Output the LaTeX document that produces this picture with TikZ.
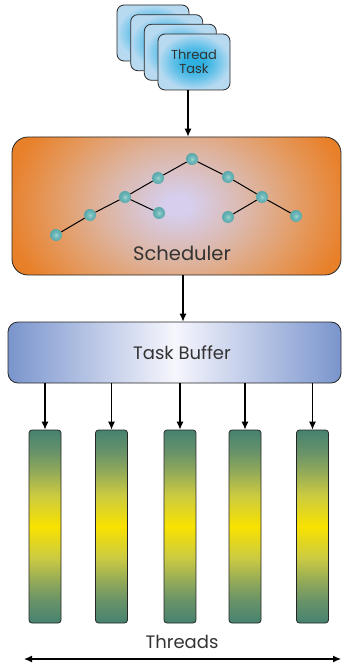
\documentclass[tikz,border=0pt]{standalone}
\usepackage{fontspec}
\setmainfont{Poppins}
\usetikzlibrary{arrows.meta}

% palette
\definecolor{cardpale}{HTML}{B8DAF1}
\definecolor{cardmid}{HTML}{6CC4EA}
\definecolor{cardcyan}{HTML}{2FB0E0}
\definecolor{schedorange}{HTML}{E8802A}
\definecolor{schedpeach}{HTML}{E49B62}
\definecolor{schedtan}{HTML}{DDB4A0}
\definecolor{schedlav}{HTML}{D6CEEC}
\definecolor{bufblue}{HTML}{7A95CD}
\definecolor{bufwhite}{HTML}{F6F6FD}
\definecolor{thrteal}{HTML}{468270}
\definecolor{thrsea}{HTML}{6A9468}
\definecolor{throlive}{HTML}{94AB58}
\definecolor{thrlime}{HTML}{CCCB40}
\definecolor{thryellow}{HTML}{F8E200}
\definecolor{ballteal}{HTML}{58A7AB}
\definecolor{ballmid}{HTML}{72BABA}
\definecolor{balllight}{HTML}{A0D6D2}
\definecolor{labelgray}{HTML}{333333}

% shadings (the filled box spans -25bp..25bp of each shading)
\pgfdeclareradialshading{cardglow}{\pgfpoint{0bp}{0bp}}{%
  color(0bp)=(cardcyan); color(7bp)=(cardcyan); color(16bp)=(cardmid); color(25bp)=(cardpale); color(50bp)=(cardpale)}
\pgfdeclareradialshading{schedglow}{\pgfpoint{0bp}{0bp}}{%
  color(0bp)=(schedlav); color(2bp)=(schedlav); color(11bp)=(schedtan); color(18bp)=(schedpeach); color(25bp)=(schedorange); color(50bp)=(schedorange)}
\pgfdeclareverticalshading{threadglow}{100bp}{%
  color(0bp)=(thrteal); color(25bp)=(thrteal); color(31bp)=(thrsea); color(36bp)=(throlive); color(42bp)=(thrlime); color(50bp)=(thryellow);
  color(58bp)=(thrlime); color(64bp)=(throlive); color(69bp)=(thrsea); color(75bp)=(thrteal); color(100bp)=(thrteal)}
\pgfdeclareradialshading{ballglow}{\pgfpoint{0bp}{0bp}}{%
  color(0bp)=(balllight); color(10bp)=(ballmid); color(25bp)=(ballteal); color(50bp)=(ballteal)}

\tikzset{
  card/.style={draw=black!85, line width=0.8pt, rounded corners=7pt,
    minimum width=72pt, minimum height=56pt, shade, shading=cardglow},
  thread/.style={draw=black!85, line width=0.8pt, rounded corners=3pt,
    minimum width=32pt, minimum height=193pt, shade, shading=threadglow},
  treenode/.style={circle, inner sep=0pt, minimum size=12pt, shade, shading=ballglow},
  treeedge/.style={line width=1pt, black},
  arr/.style={line width=1.1pt, -{Latex[length=8pt,width=7pt]}},
  txt/.style={text=labelgray, inner sep=0pt},
}

\begin{document}
\begin{tikzpicture}[x=1pt, y=-1pt]
\useasboundingbox (0,0) rectangle (342,668);

% stack of task cards, back to front
\node[card] (c1) at (153,33) {};
\node[card] (c2) at (166.7,42.7) {};
\node[card] (c3) at (180.3,52.3) {};
\node[card, align=center, text=labelgray, font=\fontsize{13}{14.5}\selectfont] (c4) at (194,62) {Thread\\Task};

% scheduler panel with a soft glow
\begin{scope}
  \path[clip, rounded corners=16pt] (12,137) rectangle (341,275);
  \fill[schedorange] (12,137) rectangle (341,275);
  \shade[shading=schedglow] (178,205) ellipse (172pt and 128pt);
\end{scope}
\node[draw=black!85, line width=0.8pt, rounded corners=16pt,
  minimum width=329pt, minimum height=138pt, inner sep=0pt] (sched) at (176.5,206) {};
\node[txt, font=\fontsize{19.5}{22}\selectfont] (schedlabel) at (182,253) {Scheduler};

% tree of tasks
\node[treenode] (n0) at (192,159) {};
\node[treenode] (n1) at (158,178) {};
\node[treenode] (n2) at (125,197) {};
\node[treenode] (n3) at (90,215) {};
\node[treenode] (n4) at (56,235) {};
\node[treenode] (n5) at (159,213) {};
\node[treenode] (m1) at (228,177) {};
\node[treenode] (m2) at (262,197) {};
\node[treenode] (m3) at (228,217) {};
\node[treenode] (m4) at (296,216) {};
\draw[treeedge] (n0) -- (n1);
\draw[treeedge] (n1) -- (n2);
\draw[treeedge] (n2) -- (n3);
\draw[treeedge] (n3) -- (n4);
\draw[treeedge] (n2) -- (n5);
\draw[treeedge] (n0) -- (m1);
\draw[treeedge] (m1) -- (m2);
\draw[treeedge] (m2) -- (m3);
\draw[treeedge] (m2) -- (m4);

% task buffer
\node[draw=black!85, line width=0.8pt, rounded corners=10pt,
  minimum width=333pt, minimum height=61pt, inner sep=0pt,
  left color=bufblue, right color=bufblue, middle color=bufwhite] (buf) at (174.5,352.5) {};
\node[txt, font=\fontsize{18}{21}\selectfont] (buflabel) at (182,353) {Task Buffer};

% worker threads
\node[thread] (t1) at (45,526.5) {};
\node[thread] (t2) at (111.5,526.5) {};
\node[thread] (t3) at (180,526.5) {};
\node[thread] (t4) at (245,526.5) {};
\node[thread] (t5) at (312.5,526.5) {};

% flow arrows
\draw[arr] ([xshift=-6pt]c4.south) -- ([xshift=-6pt]c4.south |- sched.north);
\draw[arr] ([xshift=6.5pt]sched.south) -- ([xshift=6.5pt]sched.south |- buf.north);
\foreach \t in {t1,t2,t3,t4,t5}
  \draw[arr] (\t.north |- buf.south) -- (\t.north);

% threads axis
\node[txt, font=\fontsize{18}{21}\selectfont] (thrlabel) at (182,642) {Threads};
\coordinate (axl) at (24,659);
\coordinate (axr) at (341,659);
\draw[line width=1.1pt, {Latex[length=8pt,width=7pt]}-{Latex[length=8pt,width=7pt]}] (axl) -- (axr);
\end{tikzpicture}
\end{document}
